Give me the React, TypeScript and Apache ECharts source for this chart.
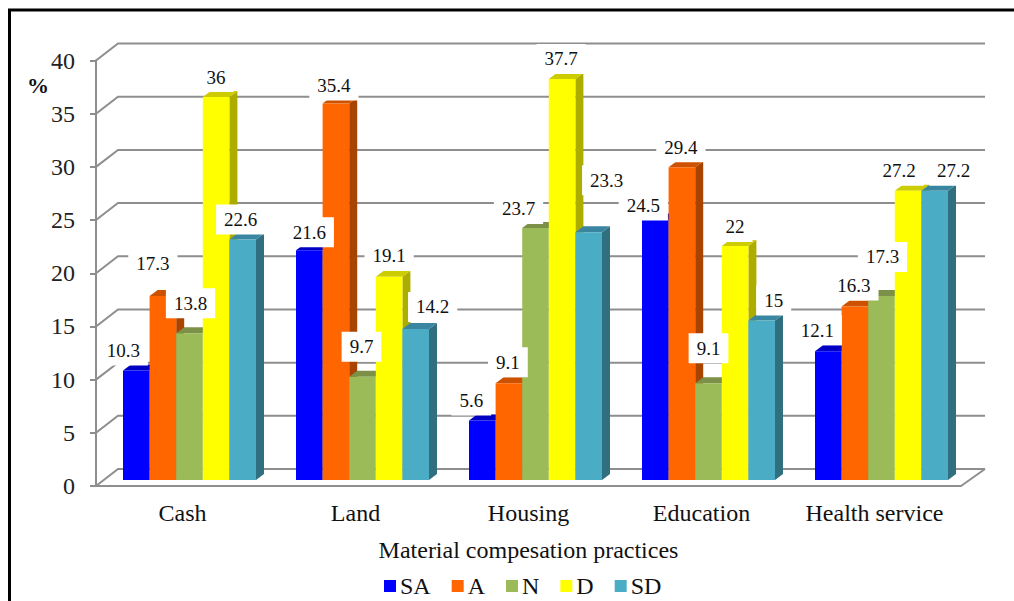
import React, { useEffect, useRef } from "react";
import * as echarts from "echarts";

const categories = ["Cash", "Land", "Housing", "Education", "Health service"];
const seriesNames = ["SA", "A", "N", "D", "SD"];
const saValues = [10.3, 21.6, 5.6, 24.5, 12.1];
const aValues = [17.3, 35.4, 9.1, 29.4, 16.3];
const nValues = [13.8, 9.7, 23.7, 9.1, 17.3];
const dValues = [36, 19.1, 37.7, 22, 27.2];
const sdValues = [22.6, 14.2, 23.3, 15, 27.2];
const yTicks = [0, 5, 10, 15, 20, 25, 30, 35, 40];

const allValues = [saValues, aValues, nValues, dValues, sdValues];

// Each shade set: front face, top face, side face.
const shades = [
  ["#0000ff", "#0000c4", "#00009c"],
  ["#ff6600", "#cc5200", "#a84300"],
  ["#9bbb59", "#7c9047", "#6b7d3d"],
  ["#ffff00", "#cccc00", "#adad00"],
  ["#4bacc6", "#3a86a0", "#2f6f80"],
];

// Label nudges from the top-centre of each bar, by series then category.
const labelNudges = [
  [[-13, -20], [0, -18], [-11, -20], [-12, -14], [-11, -21]],
  [[-10, -32], [-2, -18], [-1, -21], [-1, -20], [-1, -21]],
  [[1, -30], [-1, -30], [-17, -19], [0, -35], [1, -39]],
  [[0, -20], [0, -21], [-1, -20], [0, -19], [-9, -20]],
  [[-2, -20], [17, -22], [18, -52], [12, -20], [19, -20]],
];

const BAR_W = 26.6;
const BAR_SHIFT = 7;
const DEPTH_X = 8;
const DEPTH_Y = 6;
const FLOOR_LIFT = 6;
const WALL_X = 22;
const WALL_Y = 17;
const SERIF = "'Liberation Serif', 'Times New Roman', serif";
const GRID_STROKE = "#8e8e8e";

const barFrontLeft = (api: any, seriesIdx: number, cat: number, value: number) => {
  const p = api.coord([cat, value]);
  return [p[0] + BAR_SHIFT + (seriesIdx - 2.5) * BAR_W, p[1] - FLOOR_LIFT];
};

const renderBar = (seriesIdx: number) => (_: any, api: any) => {
  const cat = api.value(0);
  const value = api.value(1);
  const [x, y] = barFrontLeft(api, seriesIdx, cat, value);
  const [, base] = barFrontLeft(api, seriesIdx, cat, 0);
  const [front, top, side] = shades[seriesIdx];
  return {
    type: "group",
    children: [
      {
        type: "polygon",
        shape: {
          points: [
            [x + BAR_W, y],
            [x + BAR_W + DEPTH_X, y - DEPTH_Y],
            [x + BAR_W + DEPTH_X, base - DEPTH_Y],
            [x + BAR_W, base],
          ],
        },
        style: { fill: side },
      },
      {
        type: "polygon",
        shape: {
          points: [
            [x, y],
            [x + DEPTH_X, y - DEPTH_Y],
            [x + BAR_W + DEPTH_X, y - DEPTH_Y],
            [x + BAR_W, y],
          ],
        },
        style: { fill: top },
      },
      { type: "rect", shape: { x, y, width: BAR_W, height: base - y }, style: { fill: front } },
    ],
  };
};

const renderWall = (_: any, api: any) => {
  const v = api.value(0);
  const start = api.coord([0, v]);
  const xLeft = start[0] - api.size([1, 0])[0] / 2;
  const xRight = xLeft + api.size([1, 0])[0] * categories.length;
  const children: any[] = [
    {
      type: "polyline",
      shape: {
        points: [
          [xLeft, start[1]],
          [xLeft + WALL_X, start[1] - WALL_Y],
          [xRight + WALL_X + 2, start[1] - WALL_Y],
        ],
      },
      style: { stroke: GRID_STROKE, lineWidth: 2, fill: "none" },
    },
  ];
  if (v === 0) {
    children.push({
      type: "line",
      shape: { x1: xRight, y1: start[1], x2: xRight + WALL_X + 2, y2: start[1] - WALL_Y },
      style: { stroke: GRID_STROKE, lineWidth: 2 },
    });
  }
  return { type: "group", children };
};

const renderLabel = (_: any, api: any) => {
  const seriesIdx = api.value(0);
  const cat = api.value(1);
  const value = api.value(2);
  const [x, y] = barFrontLeft(api, seriesIdx, cat, value);
  const [dx, dy] = labelNudges[seriesIdx][cat];
  return {
    type: "text",
    x: x + BAR_W / 2 + dx,
    y: y + dy,
    style: {
      text: String(value),
      fill: "#111111",
      font: `19px ${SERIF}`,
      align: "center",
      verticalAlign: "middle",
      backgroundColor: "#ffffff",
      padding: [6, 8, 5, 8],
    },
  };
};

const labelRows = allValues.flatMap((vals, s) => vals.map((v, c) => [s, c, v]));

export default function App() {
  const ref = useRef<HTMLDivElement>(null);

  useEffect(() => {
    document.body.style.margin = "0";
    const chart = echarts.init(ref.current!, undefined, { renderer: "svg" });
    chart.setOption({
      animation: false,
      backgroundColor: "#ffffff",
      grid: { left: 96, top: 60.5, width: 865, height: 425.5 },
      xAxis: {
        type: "category",
        data: categories,
        axisLine: { lineStyle: { color: GRID_STROKE, width: 2 } },
        axisTick: { interval: 0, length: 6, lineStyle: { color: GRID_STROKE, width: 2 } },
        axisLabel: { interval: 0, color: "#111111", fontFamily: SERIF, fontSize: 24, margin: 15 },
        name: "Material compesation practices",
        nameLocation: "middle",
        nameGap: 52,
        nameTextStyle: { color: "#111111", fontFamily: SERIF, fontSize: 24 },
      },
      yAxis: {
        type: "value",
        min: 0,
        max: 40,
        interval: 5,
        splitLine: { show: false },
        axisLine: { show: true, lineStyle: { color: GRID_STROKE, width: 2 } },
        axisTick: { show: true, length: 6, lineStyle: { color: GRID_STROKE, width: 2 } },
        axisLabel: { color: "#222222", fontFamily: SERIF, fontSize: 24, margin: 21 },
      },
      legend: {
        data: seriesNames,
        left: 379,
        top: 569,
        itemWidth: 12,
        itemHeight: 12,
        itemGap: 21,
        icon: "rect",
        textStyle: { color: "#111111", fontFamily: SERIF, fontSize: 24, padding: [0, 0, 0, -1] },
      },
      graphic: [
        {
          type: "polyline",
          silent: true,
          shape: { points: [[9.5, 601], [9.5, 10], [1014, 10]] },
          style: { fill: "none", stroke: "#000000", lineWidth: 3 },
        },
        {
          type: "text",
          x: 27,
          y: 74,
          style: { text: "%", fill: "#111111", font: `bold 22px ${SERIF}` },
        },
      ],
      series: [
        {
          type: "custom",
          name: "wall",
          renderItem: renderWall,
          encode: { y: 0 },
          data: yTicks.map((v) => [v]),
          clip: false,
          silent: true,
          z: 1,
        },
        ...seriesNames.map((name, s) => ({
          type: "custom",
          name,
          renderItem: renderBar(s),
          encode: { x: 0, y: 1 },
          data: allValues[s].map((v, c) => [c, v]),
          itemStyle: { color: shades[s][0] },
          clip: false,
          z: 2 + s,
        })),
        {
          type: "custom",
          name: "values",
          renderItem: renderLabel,
          encode: { y: 2 },
          data: labelRows,
          clip: false,
          silent: true,
          z: 10,
        },
      ],
    });
    return () => chart.dispose();
  }, []);

  return <div ref={ref} style={{ width: 1014, height: 601 }} />;
}
